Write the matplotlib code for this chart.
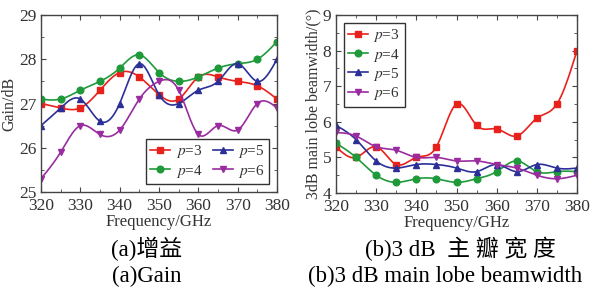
import numpy as np
import matplotlib
matplotlib.use("Agg")
import matplotlib.pyplot as plt
from matplotlib.ticker import MultipleLocator

freq = [320, 325, 330, 335, 340, 345, 350, 355, 360, 365, 370, 375, 380]

gain_p3 = [27.0, 26.9, 26.9, 27.3, 27.7, 27.6, 27.2, 27.1, 27.6, 27.6, 27.5, 27.4, 27.1]
gain_p4 = [27.1, 27.1, 27.3, 27.5, 27.8, 28.1, 27.7, 27.5, 27.6, 27.8, 27.9, 28.0, 28.4]
gain_p5 = [26.5, 26.9, 27.1, 26.6, 27.0, 27.9, 27.2, 27.0, 27.3, 27.5, 27.9, 27.5, 28.0]
gain_p6 = [25.3, 25.9, 26.5, 26.3, 26.4, 27.1, 27.5, 27.3, 26.3, 26.5, 26.4, 27.0, 26.9]

bw_p3 = [5.3, 5.0, 5.3, 4.8, 5.0, 5.3, 6.5, 5.9, 5.8, 5.6, 6.1, 6.5, 8.0]
bw_p4 = [5.4, 5.0, 4.5, 4.3, 4.4, 4.4, 4.3, 4.4, 4.6, 4.9, 4.6, 4.6, 4.6]
bw_p5 = [5.9, 5.5, 4.9, 4.7, 4.8, 4.8, 4.7, 4.6, 4.8, 4.6, 4.8, 4.7, 4.7]
bw_p6 = [5.7, 5.6, 5.3, 5.2, 5.0, 5.0, 4.9, 4.9, 4.8, 4.7, 4.5, 4.4, 4.5]

labels = ["$p$=3", "$p$=4", "$p$=5", "$p$=6"]
colors = ["#e8211d", "#1f9a3a", "#2b2f97", "#9a2ca0"]
markers = ["s", "o", "^", "v"]


def spline(x, y, n=20):
    x = np.asarray(x, float)
    y = np.asarray(y, float)
    m = len(x)
    h = np.diff(x)
    A = np.zeros((m, m))
    b = np.zeros(m)
    A[0, 0] = 1
    A[-1, -1] = 1
    for i in range(1, m - 1):
        A[i, i - 1] = h[i - 1]
        A[i, i] = 2 * (h[i - 1] + h[i])
        A[i, i + 1] = h[i]
        b[i] = 3 * ((y[i + 1] - y[i]) / h[i] - (y[i] - y[i - 1]) / h[i - 1])
    c = np.linalg.solve(A, b)
    xs, ys = [], []
    for i in range(m - 1):
        bb = (y[i + 1] - y[i]) / h[i] - h[i] * (2 * c[i] + c[i + 1]) / 3
        d = (c[i + 1] - c[i]) / (3 * h[i])
        t = np.linspace(0, h[i], n, endpoint=(i == m - 2))
        xs.append(x[i] + t)
        ys.append(y[i] + bb * t + c[i] * t ** 2 + d * t ** 3)
    return np.concatenate(xs), np.concatenate(ys)


plt.rcParams["font.family"] = ["Liberation Serif", "Noto Sans CJK SC"]
plt.rcParams["mathtext.fontset"] = "stix"

fig = plt.figure(figsize=(5.97, 2.90), dpi=100)
W, H = 597, 290
ax1 = fig.add_axes([41 / W, 1 - 192 / H, (277 - 41) / W, (192 - 15) / H])
ax2 = fig.add_axes([336 / W, 1 - 193 / H, (577 - 336) / W, (193 - 15) / H])

TXT = "#333333"


def draw(ax, series, ylim, ylabel, legend_kw):
    for s, lab, col, mk in zip(series, labels, colors, markers):
        xs, ys = spline(freq, s)
        ax.plot(xs, ys, color=col, lw=1.2)
        ax.plot(freq, s, ls="none", marker=mk, color=col, ms=4.8, label=lab)
    handles = [plt.Line2D([], [], color=c, marker=m, ms=4.8, lw=1.2) for c, m in zip(colors, markers)]
    leg = ax.legend(handles, labels, frameon=True, fancybox=False, edgecolor="black",
                    fontsize=11, handlelength=1.3, borderpad=0.3, labelspacing=0.15,
                    handletextpad=0.35, borderaxespad=0.5, **legend_kw)
    leg.get_frame().set_linewidth(1.0)
    for t in leg.get_texts():
        t.set_color(TXT)
    ax.set_xlim(320, 380)
    ax.set_ylim(*ylim)
    ax.xaxis.set_major_locator(MultipleLocator(10))
    ax.xaxis.set_minor_locator(MultipleLocator(5))
    ax.yaxis.set_major_locator(MultipleLocator(1))
    ax.yaxis.set_minor_locator(MultipleLocator(0.5))
    ax.tick_params(which="both", direction="in", top=True, right=True, labelsize=12.5,
                   labelcolor=TXT, color="#444444")
    ax.tick_params(axis="x", pad=4.5)
    ax.tick_params(axis="y", pad=3.5)
    ax.tick_params(which="major", length=3.5)
    ax.tick_params(which="minor", length=2)
    for sp in ax.spines.values():
        sp.set_linewidth(1.0)
        sp.set_color("#444444")
    ax.set_xlabel("Frequency/GHz", fontsize=12, labelpad=0, color=TXT)
    ax.set_ylabel(ylabel, fontsize=11.5, labelpad=1, color=TXT)


draw(ax1, [gain_p3, gain_p4, gain_p5, gain_p6], (25, 29), "Gain/dB",
     dict(loc="lower right", ncol=2, columnspacing=0.7))
draw(ax2, [bw_p3, bw_p4, bw_p5, bw_p6], (4, 9), "3dB main lobe beamwidth/(°)",
     dict(loc="upper left"))

CAP = 16.5
fig.text(147 / W, 1 - 249 / H, "(a)增益", ha="center", va="center", fontsize=CAP)
fig.text(147 / W, 1 - 276 / H, "(a)Gain", ha="center", va="center", fontsize=CAP)
fig.text(460 / W, 1 - 249 / H, "(b)3 dB  主 瓣 宽 度", ha="center", va="center", fontsize=CAP)
fig.text(445 / W, 1 - 276 / H, "(b)3 dB main lobe beamwidth", ha="center", va="center", fontsize=CAP)

fig.savefig("out.png", dpi=100)
